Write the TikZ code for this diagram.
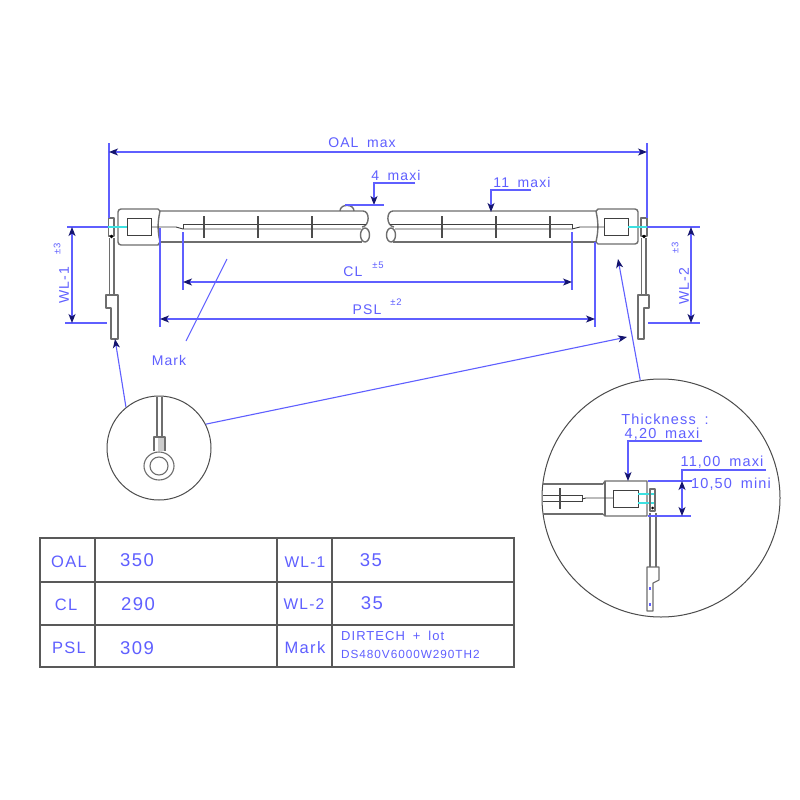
\documentclass[tikz,border=0pt]{standalone}
\usepackage{fontspec}
\setmainfont[LetterSpace=8,WordSpace=1.7]{Liberation Sans}
\usetikzlibrary{arrows.meta}
\definecolor{dimblue}{RGB}{95,95,255}
\definecolor{tipnavy}{RGB}{20,20,110}
\definecolor{lampgray}{RGB}{110,110,110}
\definecolor{glow}{RGB}{60,225,225}
\tikzset{
  dimline/.style={draw=dimblue,line width=1.1pt},
  dimarrow/.style={dimline,-{Stealth[length=9pt,width=7pt,color=tipnavy,inset=2.5pt]}},
  dimboth/.style={dimline,{Stealth[length=9pt,width=7pt,color=tipnavy,inset=2.5pt]}-{Stealth[length=9pt,width=7pt,color=tipnavy,inset=2.5pt]}},
  lamp/.style={draw=lampgray,line width=1.4pt,line join=round},
  lampthin/.style={draw=lampgray,line width=1.1pt,line join=round},
  wire/.style={draw=black!75,line width=.9pt},
  bar/.style={draw=black!70,line width=1.5pt},
  cyanline/.style={draw=glow,line width=1.6pt},
  grid/.style={draw=black!65,line width=1.1pt},
  lbl/.style={text=dimblue,inner sep=0pt,font=\fontsize{14}{15}\selectfont},
  lblsmall/.style={text=dimblue,inner sep=0pt,font=\fontsize{9.5}{11}\selectfont},
  lbldetail/.style={text=dimblue,inner sep=0pt,font=\fontsize{14.5}{16}\selectfont},
  lblcell/.style={text=dimblue,inner sep=0pt,font=\fontsize{18.5}{20}\selectfont},
  lblhead/.style={text=dimblue,inner sep=0pt,font=\fontsize{16.5}{18}\selectfont},
  lens/.style={circle,draw=black!70,line width=1pt,inner sep=0pt},
}
\begin{document}
\begin{tikzpicture}[x=1pt,y=-1pt]
\useasboundingbox (0,0) rectangle (800,800);
\fill[white] (0,0) rectangle (800,800);

% ---------- lamp, left half
\draw[lamp] (160,211) -- (158,209) -- (121,209) to[out=180,in=90] (118,212) -- (118,242) to[out=-90,in=180] (121,245) -- (158,245) -- (160,242);
\draw[lamp] (160,211) to[bend right=12] (160,242);
\draw[wire] (127,218) rectangle (151,235);
\draw[lamp] (160,211) -- (363,211) .. controls (370,211) and (370,226) .. (362,227);
\draw[lamp] (160,242) -- (362,242);
\draw[lamp] (365,235) ellipse[x radius=4.5,y radius=7];
\draw[wire] (151,227) -- (176,227) -- (183,229) -- (361,229);
\draw[wire] (183,229) -- (183,224) -- (366,224);
\foreach \xx in {204,258,312} \draw[bar] (\xx,216) -- (\xx,238);
\draw[lamp] (340,211) .. controls (340,203.5) and (354,203.5) .. (354,211);

% ---------- lamp, right half
\draw[lamp] (596,211) -- (598,209) -- (635,209) to[out=0,in=90] (638,212) -- (638,241) to[out=-90,in=0] (635,244) -- (598,244) -- (596,242);
\draw[lamp] (596,211) to[bend left=12] (596,242);
\draw[wire] (604,218) rectangle (628,235);
\draw[lamp] (596,211) -- (393,211) .. controls (386,211) and (386,226) .. (394,227);
\draw[lamp] (596,242) -- (393,242);
\draw[lamp] (391,235) ellipse[x radius=4.5,y radius=7];
\draw[wire] (604,227) -- (580,227) -- (572,229) -- (395,229);
\draw[wire] (572,229) -- (572,224) -- (390,224);
\foreach \xx in {442,496,550} \draw[bar] (\xx,216) -- (\xx,238);

% ---------- terminals
\draw[lamp] (108.5,218) rectangle (114,236);
\draw[lamp] (109.5,238) -- (109.5,295) (114,238) -- (114,295);
\fill[black] (111.5,236.5) circle[radius=1.8];
\draw[lamp] (106,295) -- (118,295) -- (118,339) -- (111,339) -- (111,308) -- (106,308) -- cycle;
\draw[lamp] (641,218) rectangle (647,236);
\draw[lamp] (641.5,238) -- (641.5,295) (646,238) -- (646,295);
\fill[black] (644,236.5) circle[radius=1.8];
\draw[lamp] (638,295) -- (649,295) -- (649,308) -- (644,308) -- (644,339) -- (638,339) -- cycle;

% ---------- horizontal / extension lines
\draw[dimline] (67,227) -- (108,227);
\draw[cyanline] (108,227) -- (127,227);
\draw[cyanline] (628,227) -- (647,227);
\draw[dimline] (647,227) -- (700,227);
\draw[dimline] (65,323) -- (107,323);
\draw[dimline] (648,323) -- (700,323);
\draw[dimline] (109,143) -- (109,218);
\draw[dimline] (647,143) -- (647,218);
\draw[dimline] (183,232) -- (183,290);
\draw[dimline] (572,232) -- (572,290);
\draw[dimline] (160,228) -- (160,327);
\draw[dimline] (595,242) -- (595,327);

% ---------- dimensions
\coordinate (oalL) at (109,152); \coordinate (oalR) at (647,152);
\draw[dimboth] (oalL) -- (oalR);
\coordinate (clL) at (183,282); \coordinate (clR) at (572,282);
\draw[dimboth] (clL) -- (clR);
\coordinate (pslL) at (160,319); \coordinate (pslR) at (595,319);
\draw[dimboth] (pslL) -- (pslR);
\coordinate (wlaT) at (72,227); \coordinate (wlaB) at (72,323);
\draw[dimboth] (wlaT) -- (wlaB);
\coordinate (wlbT) at (691,227); \coordinate (wlbB) at (691,323);
\draw[dimboth] (wlbT) -- (wlbB);

\node[lbl] (tOAL) at (362,143) {OAL max};
\node[lbl] (tCL) at (353,272) {CL};
\node[lblsmall] (tCLt) at (378,265) {±5};
\node[lbl] (tPSL) at (367,310) {PSL};
\node[lblsmall] (tPSLt) at (396,302) {±2};
\node[lbl,rotate=90] (tWLa) at (64,285) {WL-1};
\node[lblsmall,rotate=90] (tWLat) at (57,249) {±3};
\node[lbl,rotate=90] (tWLb) at (684,286) {WL-2};
\node[lblsmall,rotate=90] (tWLbt) at (675,248) {±3};

% ---------- 4 maxi, 11 maxi
\node[lbl] (tFour) at (396,175) {4 maxi};
\coordinate (fourA) at (415,183); \coordinate (fourB) at (374,183); \coordinate (fourC) at (374,205);
\draw[dimarrow] (fourA) -- (fourB) -- (fourC);
\draw[dimline] (345,205) -- (384,205);
\node[lbl] (tEleven) at (522,182) {11 maxi};
\coordinate (elA) at (531,190); \coordinate (elB) at (491,190); \coordinate (elC) at (491,212);
\draw[dimarrow] (elA) -- (elB) -- (elC);

% ---------- mark leader
\node[lbl] (tMark) at (169,360) {Mark};
\coordinate (markA) at (227,259); \coordinate (markB) at (186,341);
\draw[dimline] (markA) -- (markB);

% ---------- lenses
\node[lens,minimum size=104pt] (lensL) at (159,448) {};
\node[lens,minimum size=238pt] (lensR) at (661,498) {};
\coordinate (lugTip) at (115,339);
\coordinate (lugTipR) at (627,337);
\coordinate (blockTip) at (618,259);
\draw[dimarrow] (lensL.129) -- (lugTip);
\draw[dimarrow] (lensL.27) -- (lugTipR);
\draw[dimarrow] (lensR.100) -- (blockTip);

% ---------- lens L content
\fill[black!20] (158,437) rectangle (165,451);
\draw[lampthin] (157,397) -- (157,437) (162,397) -- (162,437);
\draw[lampthin] (154,451) -- (154,437) -- (165,437) -- (165,451);
\draw[lampthin] (159,466) ellipse[x radius=15,y radius=14];
\draw[lampthin] (159,466) circle[radius=9];

% ---------- lens R content
\draw[lamp] (603,484) -- (605,481) -- (647,481) -- (647,516) -- (605,516) -- (603,514);
\draw[lamp] (605,481) -- (605,516);
\draw[lamp] (543,484) -- (603,484) (543,514) -- (603,514);
\draw[wire] (613,490) rectangle (638,507);
\draw[wire] (543,495) -- (582,495) -- (582,501) -- (543,501);
\draw[wire] (582,499) -- (586,498) -- (613,498);
\draw[bar] (560,488) -- (560,509);
\draw[cyanline] (638,494) -- (655,494) (638,503) -- (655,503);
\draw[lampthin] (650,489) rectangle (655,511);
\fill[black] (652.5,508) circle[radius=1.5];
\draw[lampthin] (650,513) -- (650,567) (656,513) -- (656,567);
\draw[lampthin] (647,567) -- (659,567) -- (659,580) -- (653,583) -- (653,611) -- (647,611) -- cycle;
\draw[dimline] (650,587) -- (650,590) (650,603) -- (650,606);

\node[lbldetail] (tThick) at (665,419) {Thickness :};
\node[lbldetail] (tThickV) at (662,434) {4,20 maxi};
\coordinate (thA) at (702,441); \coordinate (thB) at (628,441); \coordinate (thC) at (628,481);
\draw[dimarrow] (thA) -- (thB) -- (thC);
\node[lbldetail] (tMax) at (722,462) {11,00 maxi};
\node[lbldetail] (tMin) at (731,484) {10,50 mini};
\draw[dimline] (766,470) -- (682,470) -- (682,482);
\draw[dimline] (648,481) -- (692,481);
\draw[dimline] (648,516) -- (691,516);
\coordinate (gapT) at (682,481); \coordinate (gapB) at (682,516);
\draw[dimboth] (gapT) -- (gapB);

% ---------- table
\draw[grid] (40,538) rectangle (514,667);
\draw[grid] (40,582) -- (514,582) (40,625) -- (514,625);
\draw[grid] (95,538) -- (95,667) (277,538) -- (277,667) (332,538) -- (332,667);
\node[lblhead] (cOAL) at (69,562) {OAL};
\node[lblcell] (vOAL) at (137,560) {350};
\node[lblhead] (cCL) at (66,605) {CL};
\node[lblcell] (vCL) at (138,604) {290};
\node[lblhead] (cPSL) at (69,648) {PSL};
\node[lblcell] (vPSL) at (137,648) {309};
\node[lblhead,font=\fontsize{15.5}{17}\selectfont] (cWLa) at (305,562) {WL-1};
\node[lblcell] (vWLa) at (371,560) {35};
\node[lblhead,font=\fontsize{15.5}{17}\selectfont] (cWLb) at (304,604) {WL-2};
\node[lblcell] (vWLb) at (372,603) {35};
\node[lblhead] (cMark) at (305,648) {Mark};
\node[lblhead,anchor=west,font=\fontsize{13}{15}\selectfont] (vMarkA) at (341,636) {DIRTECH + lot};
\node[lblhead,anchor=west,font=\fontsize{11.8}{13}\selectfont] (vMarkB) at (341,654) {DS480V6000W290TH2};
\end{tikzpicture}
\end{document}
